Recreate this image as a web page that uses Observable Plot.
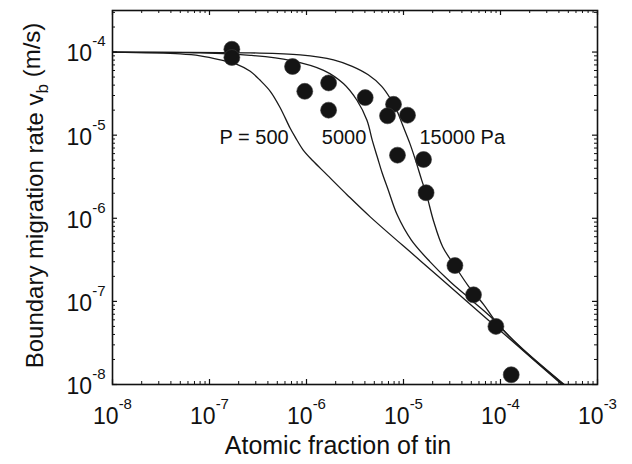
<!DOCTYPE html>
<html>
<head>
<meta charset="utf-8">
<script src="https://cdn.jsdelivr.net/npm/d3@7"></script>
<script src="https://cdn.jsdelivr.net/npm/@observablehq/plot@0.6"></script>
<style>
  body { margin: 0; background: #fff; }
  #chart svg { display: block; }
</style>
</head>
<body>
<div id="chart"></div>
<script>
// ---- texts ----
const xTitle = "Atomic fraction of tin";
const yTitle = "Boundary migration rate v_b (m/s)";

// ---- ticks ----
const xMajor = [1e-8, 1e-7, 1e-6, 1e-5, 1e-4, 1e-3];
const yMajor = [1e-8, 1e-7, 1e-6, 1e-5, 1e-4];
const minorMultipliers = [2, 3, 4, 5, 6, 7, 8, 9];
const xMinor = [-8, -7, -6, -5, -4].flatMap(k => minorMultipliers.map(m => m * 10 ** k));
const yMinor = [-8, -7, -6, -5, -4].flatMap(k => minorMultipliers.map(m => m * 10 ** k)).filter(v => v < 10 ** -3.5);

// ---- measured points ----
const dotX = [1.70e-7, 1.70e-7, 7.18e-7, 9.6e-7, 1.69e-6, 1.69e-6, 4.03e-6, 7.89e-6, 6.84e-6,
              1.10e-5, 8.67e-6, 1.61e-5, 1.71e-5, 3.39e-5, 5.27e-5, 8.97e-5, 1.29e-4];
const dotY = [1.08e-4, 8.6e-5, 6.7e-5, 3.37e-5, 4.25e-5, 2.0e-5, 2.83e-5, 2.35e-5, 1.71e-5,
              1.74e-5, 5.75e-6, 5.1e-6, 2.03e-6, 2.7e-7, 1.2e-7, 5.0e-8, 1.31e-8];

// ---- model curves ----
const p500X = [1e-8, 4.99e-8, 8.02e-8, 1.29e-7, 1.92e-7, 2.63e-7, 3.33e-7, 4.23e-7, 5.32e-7, 6.79e-7,
               7.65e-7, 9.25e-7, 1.17e-6, 1.60e-6, 2.63e-6, 4.54e-6, 1.5e-5, 5e-5, 1.5e-4, 4.30e-4];
const p500Y = [1e-4, 9.51e-5, 9.01e-5, 8.06e-5, 7.12e-5, 5.87e-5, 4.57e-5, 3.37e-5, 2.17e-5, 1.21e-5,
               9.46e-6, 6.61e-6, 4.88e-6, 3.40e-6, 1.91e-6, 1.04e-6, 3.07e-7, 9.0e-8, 2.92e-8, 1e-8];

const p5000X = [1e-8, 8.02e-8, 2.63e-7, 6.79e-7, 1.50e-6, 2.40e-6, 3.31e-6, 4.20e-6, 4.76e-6, 5.36e-6,
                6.03e-6, 6.96e-6, 8.61e-6, 1.20e-5, 1.88e-5, 3.03e-5, 4.86e-5, 7.82e-5, 1.5e-4, 4.45e-4];
const p5000Y = [1e-4, 9.78e-5, 9.13e-5, 7.95e-5, 6.03e-5, 4.18e-5, 2.63e-5, 1.51e-5, 8.71e-6, 5.49e-6,
                3.50e-6, 2.19e-6, 1.10e-6, 5.50e-7, 2.99e-7, 1.72e-7, 1.07e-7, 6.62e-8, 3.0e-8, 1e-8];

const p15000X = [1e-8, 2.63e-7, 8.61e-7, 1.90e-6, 2.96e-6, 4.33e-6, 5.96e-6, 7.29e-6, 8.51e-6, 9.70e-6,
                 1.16e-5, 1.35e-5, 1.54e-5, 1.73e-5, 2.04e-5, 2.54e-5, 3.39e-5, 4.65e-5, 6.68e-5, 9.18e-5,
                 1.6e-4, 4.54e-4];
const p15000Y = [1e-4, 9.78e-5, 9.26e-5, 8.06e-5, 6.73e-5, 5.32e-5, 3.87e-5, 2.78e-5, 2.00e-5, 1.36e-5,
                 8.02e-6, 4.74e-6, 2.88e-6, 1.91e-6, 9.29e-7, 4.52e-7, 2.67e-7, 1.54e-7, 9.22e-8, 5.50e-8,
                 2.85e-8, 1e-8];

// ---- curve annotations ----
const curveLabels = ["P = 500", "5000", "15000 Pa"];
const curveLabelX = [1.27e-7, 1.44e-6, 1.46e-5];
const curveLabelY = [9.4e-6, 9.4e-6, 9.4e-6];

const toRows = (X, Y) => X.map((x, i) => ({x, y: Y[i]}));
const dots = toRows(dotX, dotY);
const curves = [toRows(p500X, p500Y), toRows(p5000X, p5000Y), toRows(p15000X, p15000Y)];
const labels = curveLabels.map((t, i) => ({t, x: curveLabelX[i], y: curveLabelY[i]}));

const supFmt = d => `10^${Math.round(Math.log10(d))}`;
const ink = "#111";

const chart = Plot.plot({
  width: 632,
  height: 464,
  marginLeft: 112,
  marginRight: 35,
  marginTop: 10,
  marginBottom: 80,
  style: {fontFamily: "'Liberation Sans', Arial, sans-serif", fontSize: "23px", background: "#fff", color: ink},
  x: {type: "log", domain: [1e-8, 1e-3], label: null},
  y: {type: "log", domain: [1e-8, 10 ** -3.5], label: null},
  marks: [
    // curves
    ...curves.map(c => Plot.line(c, {x: "x", y: "y", curve: "catmull-rom", stroke: "#1a1a1a", strokeWidth: 1.3, clip: true})),
    // points
    Plot.dot(dots, {x: "x", y: "y", r: 8, fill: "#141414", stroke: "#3a3a3a", strokeWidth: 0.6}),
    // annotations
    Plot.text(labels, {x: "x", y: "y", text: "t", textAnchor: "start", lineAnchor: "middle", fontSize: 20, fill: ink}),
    // inward ticks on all four sides
    Plot.tickX(xMajor, {x: d => d, insetTop: 369, stroke: ink, strokeWidth: 1.2}),
    Plot.tickX(xMajor, {x: d => d, insetBottom: 369, stroke: ink, strokeWidth: 1.2}),
    Plot.tickX(xMinor, {x: d => d, insetTop: 371, stroke: ink, strokeWidth: 1}),
    Plot.tickX(xMinor, {x: d => d, insetBottom: 371, stroke: ink, strokeWidth: 1}),
    Plot.tickY(yMajor, {y: d => d, insetRight: 480, stroke: ink, strokeWidth: 1.2}),
    Plot.tickY(yMajor, {y: d => d, insetLeft: 480, stroke: ink, strokeWidth: 1.2}),
    Plot.tickY(yMinor, {y: d => d, insetRight: 482, stroke: ink, strokeWidth: 1}),
    Plot.tickY(yMinor, {y: d => d, insetLeft: 482, stroke: ink, strokeWidth: 1}),
    // axes (labels only)
    Plot.axisX({ticks: xMajor, tickSize: 0, tickPadding: 23, tickFormat: supFmt, label: null}),
    Plot.axisY({ticks: yMajor, tickSize: 0, tickPadding: 7, tickFormat: supFmt, label: null, dy: 2}),
    // axis titles
    Plot.text([xTitle], {text: d => d, frameAnchor: "bottom", textAnchor: "middle", lineAnchor: "bottom", dy: 69, dx: -17, fontSize: 25, fill: ink}),
    Plot.text([yTitle], {text: d => d, frameAnchor: "left", textAnchor: "middle", rotate: -90, lineAnchor: "top", dx: -87, dy: -2, fontSize: 24, fill: ink}),
    // frame
    Plot.frame({stroke: ink, strokeWidth: 1.6})
  ]
});

// superscripts for tick labels, subscript in y title
const NS = "http://www.w3.org/2000/svg";
chart.querySelectorAll('[aria-label="x-axis tick label"] text, [aria-label="y-axis tick label"] text').forEach(t => {
  const m = t.textContent.match(/^10\^(.+)$/);
  if (!m) return;
  t.textContent = "10";
  const s = document.createElementNS(NS, "tspan");
  s.setAttribute("dy", "-15");
  s.setAttribute("font-size", "15px");
  s.textContent = m[1];
  t.appendChild(s);
});
chart.querySelectorAll("text").forEach(t => {
  const s = t.textContent;
  const i = s.indexOf("_b");
  if (i < 0) return;
  t.textContent = s.slice(0, i);
  const sub = document.createElementNS(NS, "tspan");
  sub.setAttribute("dy", "0.3em");
  sub.setAttribute("font-size", "17px");
  sub.textContent = "b";
  const rest = document.createElementNS(NS, "tspan");
  rest.setAttribute("dy", "-0.3em");
  rest.textContent = s.slice(i + 2);
  t.appendChild(sub);
  t.appendChild(rest);
});

document.getElementById("chart").appendChild(chart);
</script>
</body>
</html>
